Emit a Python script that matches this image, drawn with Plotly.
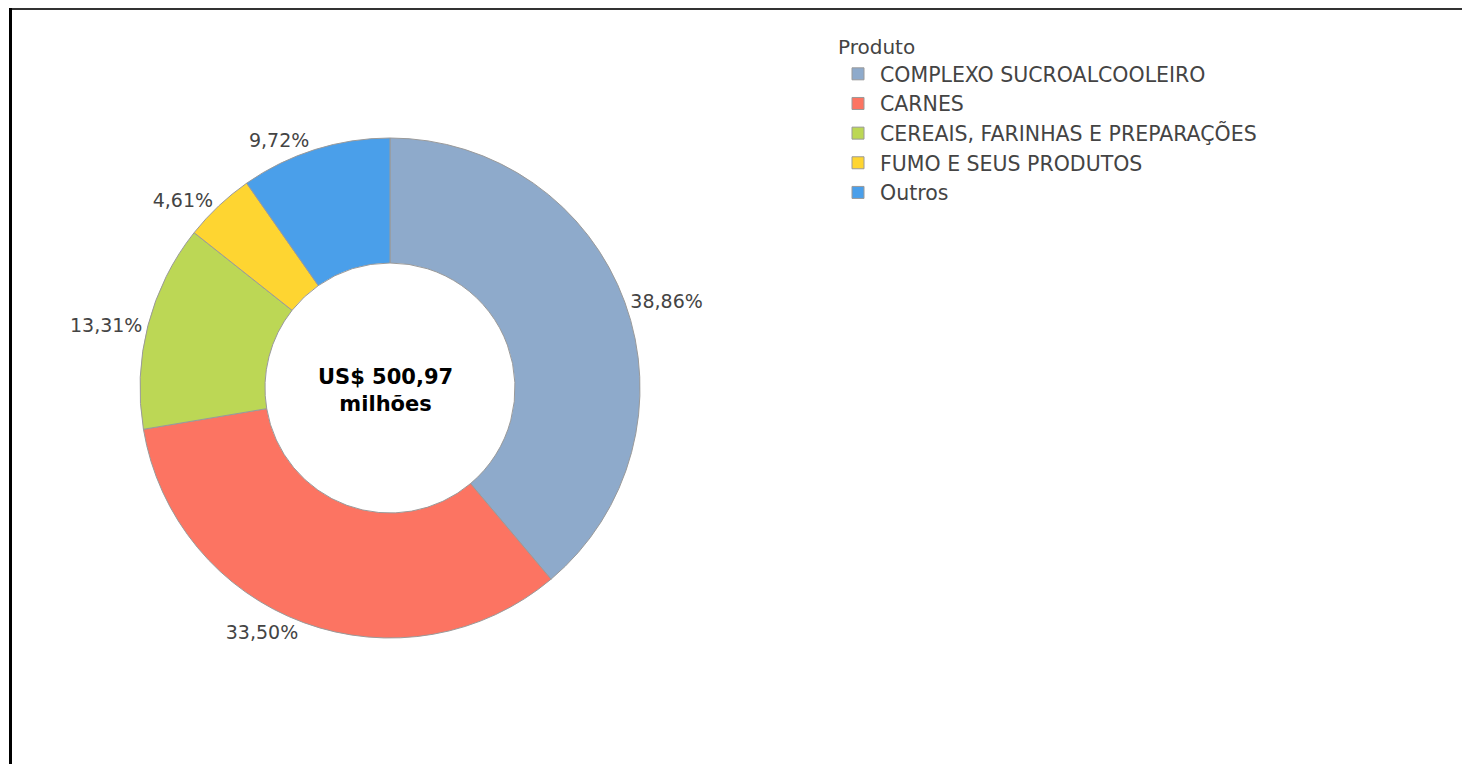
import plotly.graph_objects as go

W, H = 1470, 764
OFF = 8  # page body margin offset in the browser

categories = ["COMPLEXO SUCROALCOOLEIRO", "CARNES", "CEREAIS, FARINHAS E PREPARAÇÕES",
              "FUMO E SEUS PRODUTOS", "Outros"]
shares = [38.86, 33.50, 13.31, 4.61, 9.72]
labels_txt = ["38,86%", "33,50%", "13,31%", "4,61%", "9,72%"]
colors = ["#8eaacb", "#fc7462", "#bcd755", "#fed531", "#4a9fea"]
center_text = "<b>US$ 500,97</b><br><b>milhões</b>"
legend_title = "Produto"

cx, cy, R = 390 - OFF, 388 - OFF, 250


def px(x):
    return x / W


def py(y):
    return 1 - y / H


fig = go.Figure(go.Pie(
    labels=categories,
    values=shares,
    text=labels_txt,
    textinfo="text",
    textposition="outside",
    hole=0.5,
    sort=False,
    direction="clockwise",
    rotation=0,
    marker=dict(colors=colors, line=dict(color="#9a9a9a", width=1)),
    outsidetextfont=dict(family="DejaVu Sans", size=19, color="#444444"),
    domain=dict(x=[px(cx - R), px(cx + R)], y=[py(cy + R), py(cy - R)]),
    hoverinfo="label+text",
))

fig.add_annotation(
    text=center_text, x=px(cx - 5), y=py(cy + 2), xref="paper", yref="paper",
    showarrow=False, font=dict(family="DejaVu Sans", size=21, color="#000000"),
    xanchor="center", yanchor="middle", align="center",
)

# frame lines
fig.add_shape(type="line", xref="paper", yref="paper", x0=px(9 - OFF), x1=1.0,
              y0=py(8 - OFF + 1), y1=py(8 - OFF + 1), line=dict(color="#333333", width=2))
fig.add_shape(type="line", xref="paper", yref="paper", x0=px(10 - OFF + 0.5), x1=px(10 - OFF + 0.5),
              y0=0, y1=1, line=dict(color="#000000", width=3))

fig.update_layout(
    width=W, height=H,
    margin=dict(l=0, r=0, t=0, b=0),
    paper_bgcolor="white", plot_bgcolor="white",
    showlegend=True,
    legend=dict(
        title=dict(text=legend_title, font=dict(family="DejaVu Sans", size=20, color="#444444")),
        font=dict(family="DejaVu Sans", size=20.5, color="#444444"),
        x=px(836 - OFF), y=py(28 - OFF), xanchor="left", yanchor="top",
        itemwidth=34, tracegroupgap=0, bgcolor="rgba(0,0,0,0)",
    ),
)

fig.write_html("out.html")
